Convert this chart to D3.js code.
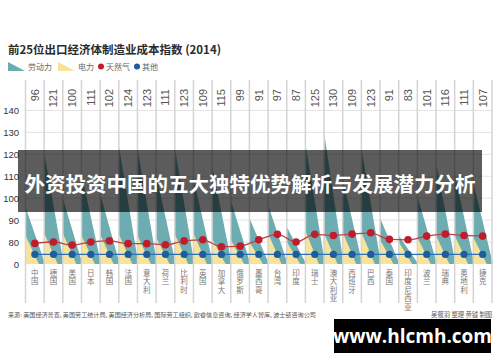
<!DOCTYPE html>
<html><head><meta charset="utf-8">
<script src="https://cdn.jsdelivr.net/npm/d3@7/dist/d3.min.js"></script>
<style>
html,body{margin:0;padding:0;background:#fff;}
svg{display:block;font-family:"Liberation Sans","Noto Sans CJK SC",sans-serif;}
.cjk{font-family:"Noto Sans CJK SC",sans-serif;}
.vert{writing-mode:vertical-rl;text-orientation:upright;}
</style></head>
<body>
<svg id="chart" width="500" height="362"></svg>
<script>
const countries = ["中国","德国","美国","日本","韩国","法国","意大利","荷兰","比利时","英国","加拿大","俄罗斯","墨西哥","台湾","印度","瑞士","澳大利亚","西班牙","巴西","泰国","印度尼西亚","波兰","瑞典","奥地利","捷克"];
const costIndex = [96,121,100,111,102,124,123,111,123,109,115,99,91,97,87,125,130,109,123,91,83,101,116,111,107];
const electricity = [83,84,84,83,83.5,83.5,83,82,83.5,84,81.5,81,80,84,80,85,84,84.5,84.5,81,80,82,83,83,82];
const naturalGas = [75,80,69,80,80.5,74,74,70,80.5,81,63,65,81,83.5,80,83.5,83,83.6,84.2,81.2,81,82.7,83.6,83,82.7];
const other = [35,35,35,35,35,35,35,35,35,35,35,35,35,35,35,35,35,35,35,35,35,35,35,35,35];
const yTicks = [0,80,90,100,110,120,130,140];
const legendItems = [{name:"劳动力",type:"labor"},{name:"电力",type:"elec"},{name:"天然气",type:"gas"},{name:"其他",type:"other"}];
const titleText = "前25位出口经济体制造业成本指数 (2014)";
const sourceText = "来源: 美国经济普查, 美国劳工统计局, 美国经济分析局, 国际劳工组织, 欧睿信息咨询, 经济学人智库, 波士顿咨询公司";
const creditText = "吴筱羽 整理  黄钺 制图";
const bannerText = "外资投资中国的五大独特优势解析与发展潜力分析";
const watermarkText = "www.hlcmh.com";

const C = {teal:"#6dadb1", yellow:"#f7e39a", red:"#c01c2c", redLine:"#b9444c", blue:"#1c5c9f", blueLine:"#2c6fb2", grid:"#e4e4e4", divider:"#d4d4d4"};

const svg = d3.select("#chart");
const x = d3.scaleBand().domain(countries).range([25.5, 492]).padding(0);
const y = d3.scaleLinear().domain([0,80,140]).range([264,242,110.5]);
const bw = x.bandwidth();
const data = countries.map((c,i)=>({c, v:costIndex[i], e:electricity[i], g:naturalGas[i], o:other[i]}));

// title
svg.append("text").attr("class","cjk").attr("x",8).attr("y",54).attr("font-size",11.5).attr("font-weight",700).attr("fill","#2b2b2b").text(titleText);

// legend
const lg = svg.append("g");
const lgPos = [8,58,101,137];
legendItems.forEach((d,i)=>{
  const px = lgPos[i];
  if(d.type==="labor"||d.type==="elec"){
    lg.append("path").attr("d",`M${px},62 L${px},71 L${px+17},71 Z`).attr("fill", d.type==="labor"?C.teal:C.yellow);
    lg.append("text").attr("class","cjk").attr("x",px+20).attr("y",69.5).attr("font-size",8).attr("fill","#666").text(d.name);
  } else {
    lg.append("circle").attr("cx",px).attr("cy",66.5).attr("r",3).attr("fill", d.type==="gas"?C.red:C.blue);
    lg.append("text").attr("class","cjk").attr("x",px+5).attr("y",69.5).attr("font-size",8).attr("fill","#666").text(d.name);
  }
});

// gridlines
svg.append("g").selectAll("line").data(yTicks.filter(t=>t>0)).join("line")
  .attr("x1",25.5).attr("x2",492).attr("y1",d=>y(d)).attr("y2",d=>y(d))
  .attr("stroke",C.grid).attr("stroke-width",1);

// y axis labels
svg.append("g").selectAll("text").data(yTicks).join("text")
  .attr("x",19).attr("y",d=>y(d)+3.5).attr("text-anchor","end")
  .attr("font-size",9.5).attr("fill","#333").text(d=>d);

// teal (labor) triangles
svg.append("g").selectAll("path").data(data).join("path")
  .attr("d",d=>`M${x(d.c)},${y(d.v)} L${x(d.c)},${y(0)} L${x(d.c)+bw*1.05},${y(0)} Z`)
  .attr("fill",C.teal);
// yellow (electricity) triangles
svg.append("g").selectAll("path").data(data).join("path")
  .attr("d",d=>`M${x(d.c)},${y(d.e)} L${x(d.c)},${y(0)} L${x(d.c)+bw*0.72},${y(0)} Z`)
  .attr("fill",C.yellow);

// dividers
const edges = countries.map(c=>x(c)).concat([x(countries[countries.length-1])+bw]);
svg.append("g").selectAll("line").data(edges).join("line")
  .attr("x1",d=>d).attr("x2",d=>d).attr("y1",80).attr("y2",303)
  .attr("stroke",C.divider).attr("stroke-width",1.5);

// top value labels
svg.append("g").selectAll("text").data(data).join("text")
  .attr("transform",d=>`translate(${x(d.c)+bw/2+4},89) rotate(-90)`)
  .attr("text-anchor","end").attr("font-size",11).attr("fill","#555").text(d=>d.v);

// lines
const cx = d=>x(d.c)+bw/2;
svg.append("path").datum(data).attr("fill","none").attr("stroke",C.blueLine).attr("stroke-width",1.3)
  .attr("d",d3.line().x(cx).y(d=>y(d.o)));
svg.append("path").datum(data).attr("fill","none").attr("stroke",C.redLine).attr("stroke-width",1.3)
  .attr("d",d3.line().x(cx).y(d=>y(d.g)).curve(d3.curveMonotoneX));
svg.append("g").selectAll("circle").data(data).join("circle")
  .attr("cx",cx).attr("cy",d=>y(d.o)).attr("r",3.6).attr("fill",C.blue);
svg.append("g").selectAll("circle").data(data).join("circle")
  .attr("cx",cx).attr("cy",d=>y(d.g)).attr("r",3.8).attr("fill",C.red);

// country labels (vertical)
svg.append("g").selectAll("text").data(data).join("text")
  .attr("class","cjk vert").attr("x",cx).attr("y",269)
  .attr("font-size",7.5).attr("letter-spacing",1).attr("fill","#777").text(d=>d.c);

// source + credit
svg.append("text").attr("class","cjk").attr("x",8).attr("y",317).attr("font-size",6.1).attr("fill","#555").text(sourceText);
svg.append("text").attr("class","cjk").attr("x",492).attr("y",317).attr("text-anchor","end").attr("font-size",6.3).attr("fill","#555").text(creditText);

// banner overlay
svg.append("rect").attr("x",18).attr("y",150).attr("width",464).attr("height",62).attr("fill","rgba(0,0,0,0.64)");
svg.append("text").attr("class","cjk").attr("x",250).attr("y",191.5).attr("text-anchor","middle")
  .attr("font-size",20.5).attr("font-weight",700).attr("fill","#fff").text(bannerText);

// watermark
svg.append("rect").attr("x",334).attr("y",319).attr("width",157).attr("height",34).attr("fill","#000");
svg.append("text").attr("x",412.5).attr("y",342.5).attr("text-anchor","middle")
  .attr("font-size",19).attr("font-weight",700).attr("fill","#fff").attr("font-family","'Open Sans','Liberation Sans',sans-serif").text(watermarkText);
</script>
</body></html>
